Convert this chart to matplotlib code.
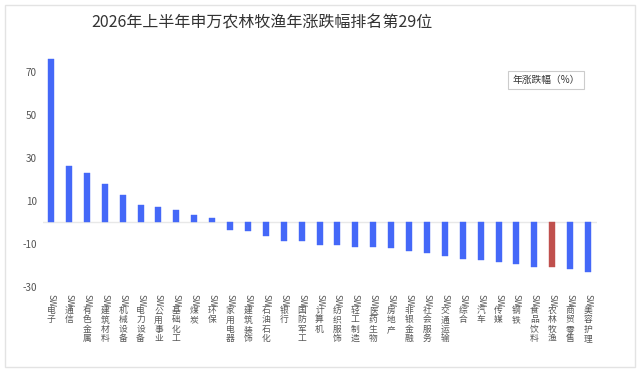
import matplotlib
matplotlib.use("Agg")
import matplotlib.pyplot as plt
from matplotlib.patches import Rectangle

plt.rcParams['font.family'] = ['Noto Sans CJK SC', 'DejaVu Sans']

industries = ["电子", "通信", "有色金属", "建筑材料", "机械设备", "电力设备", "公用事业",
              "基础化工", "煤炭", "环保", "家用电器", "建筑装饰", "石油石化", "银行",
              "国防军工", "计算机", "纺织服饰", "轻工制造", "医药生物", "房地产",
              "非银金融", "社会服务", "交通运输", "综合", "汽车", "传媒", "钢铁",
              "食品饮料", "农林牧渔", "商贸零售", "美容护理"]
change = [75.8, 26.2, 22.8, 17.8, 12.9, 8.2, 7.1, 5.7, 3.6, 1.9,
          -3.6, -4.2, -6.4, -8.7, -8.7, -10.7, -10.7, -11.2, -11.2, -11.9,
          -13.5, -14.0, -15.7, -17.2, -17.4, -18.3, -19.2, -20.6, -20.8, -21.5, -23.1]
highlight = "农林牧渔"
yticks = [70, 50, 30, 10, -10, -30]

W, H = 640, 372
fig = plt.figure(figsize=(W / 100, H / 100), dpi=100)

# plot area in pixels: left 43, right 597, top ~50, bottom 287
ax = fig.add_axes([43 / W, (H - 287) / H, (597 - 43) / W, (287 - 50.2) / H])

x = list(range(len(industries)))
colors = ["#c0504d" if n == highlight else "#4468f8" for n in industries]
ax.bar(x, change, width=0.34, color=colors, edgecolor=colors, linewidth=0.3, zorder=2)
ax.axhline(0, color="#e8e8e8", linewidth=1, zorder=1)

ax.set_xlim(-0.45, len(industries) - 0.5)
ax.set_ylim(-30, 80)
ax.set_yticks(yticks)
ax.set_yticklabels([str(v) for v in yticks])
ax.tick_params(axis="y", length=0, pad=4.5, labelsize=7.2, labelcolor="#555555")
ax.set_xticks([])
for s in ax.spines.values():
    s.set_visible(False)

# vertical labels: "SW" turned sideways, then the characters stacked upright
for i, name in enumerate(industries):
    ax.annotate("SW", xy=(i, 0), xycoords=("data", "axes fraction"),
                xytext=(0, -5), textcoords="offset points",
                rotation=270, ha="center", va="top", fontsize=6.3, color="#555555")
    ax.annotate("\n".join(name), xy=(i, 0), xycoords=("data", "axes fraction"),
                xytext=(0, -13.7), textcoords="offset points",
                ha="center", va="top", fontsize=6.3, color="#555555", linespacing=1.05)

fig.text(262 / W, 1 - 23 / H, "2026年上半年申万农林牧渔年涨跌幅排名第29位",
         ha="center", va="center", fontsize=11.5, color="#333333")

fig.text(546 / W, 1 - 80 / H, "年涨跌幅（%）", ha="center", va="center",
         fontsize=7, color="#333333",
         bbox=dict(boxstyle="square,pad=0.45", facecolor="white", edgecolor="#cccccc", linewidth=0.8))

fig.patches.append(Rectangle((5 / W, 5 / H), 630 / W, 362 / H, transform=fig.transFigure,
                             facecolor="none", edgecolor="#e3e3e3", linewidth=1))

fig.savefig("out.png", dpi=100)
